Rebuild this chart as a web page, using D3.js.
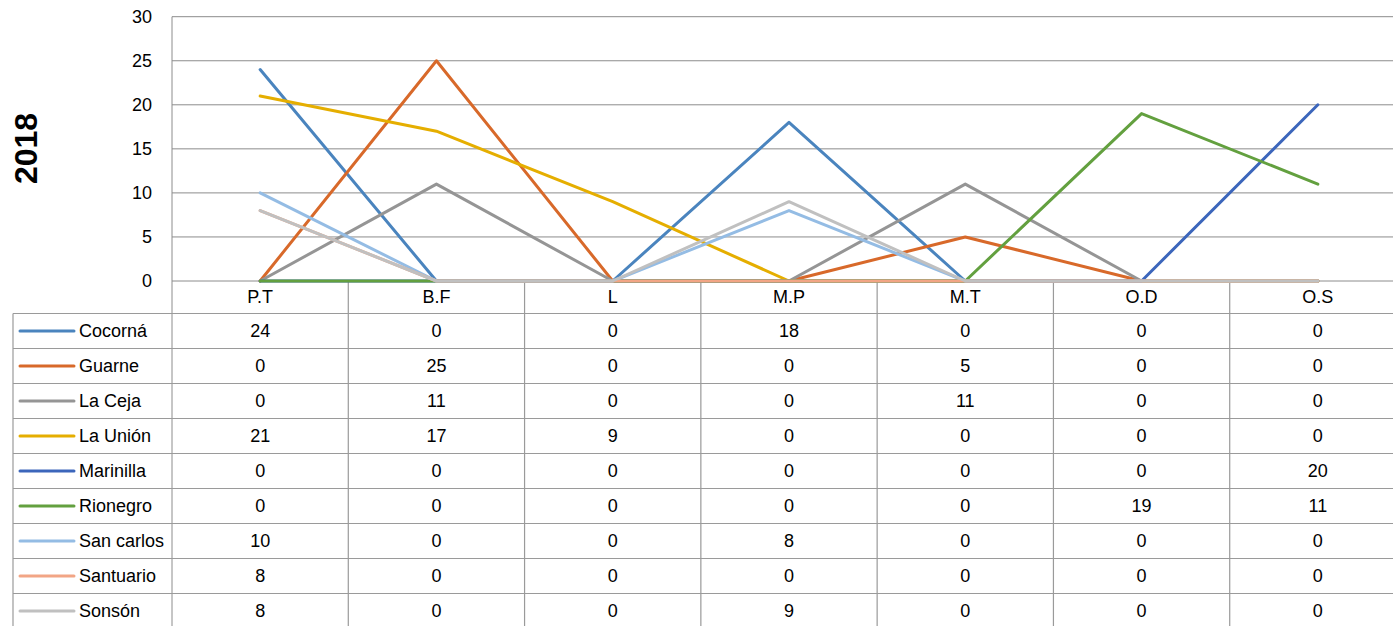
<!DOCTYPE html>
<html>
<head>
<meta charset="utf-8">
<script src="https://cdn.jsdelivr.net/npm/d3@7"></script>
<style>
  html, body { margin: 0; padding: 0; background: #fff; overflow: hidden; }
  text { font-family: "Liberation Sans", Arial, sans-serif; fill: #000; }
</style>
</head>
<body>
<svg id="chart" width="1393" height="626"></svg>
<script>
const title = "2018";
const categories = ["P.T", "B.F", "L", "M.P", "M.T", "O.D", "O.S"];
const seriesNames = ["Cocorná", "Guarne", "La Ceja", "La Unión", "Marinilla", "Rionegro", "San carlos", "Santuario", "Sonsón"];
const cocorna   = [24, 0, 0, 18, 0, 0, 0];
const guarne    = [0, 25, 0, 0, 5, 0, 0];
const laCeja    = [0, 11, 0, 0, 11, 0, 0];
const laUnion   = [21, 17, 9, 0, 0, 0, 0];
const marinilla = [0, 0, 0, 0, 0, 0, 20];
const rionegro  = [0, 0, 0, 0, 0, 19, 11];
const sanCarlos = [10, 0, 0, 8, 0, 0, 0];
const santuario = [8, 0, 0, 0, 0, 0, 0];
const sonson    = [8, 0, 0, 9, 0, 0, 0];
const yTicks = [0, 5, 10, 15, 20, 25, 30];
const colors = ["#4A84BE", "#D8692A", "#959595", "#E5AE00", "#3C66BB", "#63A03F", "#94BCE4", "#F2A585", "#C0C0C0"];

const seriesValues = [cocorna, guarne, laCeja, laUnion, marinilla, rionegro, sanCarlos, santuario, sonson];
const series = seriesNames.map((name, i) => ({ name, values: seriesValues[i], color: colors[i] }));

const svg = d3.select("#chart");
const plotLeft = 172, plotRight = 1406, plotTop = 16.7, plotBottom = 281;
const labelRowBottom = 313.5, rowH = 35, tableLeft = 13, svgH = 626;
const gridColor = "#8c8c8c", tableColor = "#9a9a9a";

const x = d3.scaleBand().domain(categories).range([plotLeft, plotRight]);
const y = d3.scaleLinear().domain([0, 30]).range([plotBottom, plotTop]);
const cx = c => x(c) + x.bandwidth() / 2;

// gridlines
svg.append("g").selectAll("line").data(yTicks).join("line")
  .attr("x1", plotLeft).attr("x2", plotRight)
  .attr("y1", d => y(d)).attr("y2", d => y(d))
  .attr("stroke", gridColor).attr("stroke-width", 1);

// y axis labels
const yAxis = svg.append("g").attr("transform", `translate(${plotLeft},0)`)
  .call(d3.axisLeft(y).tickValues(yTicks).tickSize(0).tickPadding(20));
yAxis.select(".domain").remove();
yAxis.selectAll("text").style("font-family", '"Liberation Sans", Arial, sans-serif').style("font-size", "18px").attr("fill", "#000");

// left axis line
svg.append("line").attr("x1", plotLeft).attr("x2", plotLeft)
  .attr("y1", plotTop).attr("y2", svgH)
  .attr("stroke", gridColor).attr("stroke-width", 1);

// title
svg.append("text").text(title)
  .attr("transform", `translate(37,148.5) rotate(-90)`)
  .attr("text-anchor", "middle")
  .style("font-size", "32px").style("font-weight", "bold");

// category separators in label row + table
const bounds = categories.slice(1).map(c => x(c));
svg.append("g").selectAll("line").data(bounds).join("line")
  .attr("x1", d => d).attr("x2", d => d)
  .attr("y1", plotBottom + 1).attr("y2", svgH)
  .attr("stroke", tableColor).attr("stroke-width", 1.2);

// category labels
svg.append("g").selectAll("text").data(categories).join("text")
  .attr("x", d => cx(d)).attr("y", 297).attr("dy", "0.35em")
  .attr("text-anchor", "middle").style("font-size", "18px").text(d => d);

// table horizontal lines
const rowLines = d3.range(series.length + 1).map(i => labelRowBottom + i * rowH);
svg.append("g").selectAll("line").data(rowLines).join("line")
  .attr("x1", tableLeft).attr("x2", plotRight)
  .attr("y1", d => d).attr("y2", d => d)
  .attr("stroke", tableColor).attr("stroke-width", 1.2);
svg.append("line").attr("x1", tableLeft).attr("x2", tableLeft)
  .attr("y1", labelRowBottom).attr("y2", svgH)
  .attr("stroke", tableColor).attr("stroke-width", 1.2);

// table rows
const rows = svg.append("g").selectAll("g").data(series).join("g")
  .attr("transform", (d, i) => `translate(0,${labelRowBottom + i * rowH + rowH / 2})`);
rows.append("line").attr("x1", 20).attr("x2", 74).attr("y1", 0).attr("y2", 0)
  .attr("stroke", d => d.color).attr("stroke-width", 3).attr("stroke-linecap", "round");
rows.append("text").attr("x", 79).attr("y", 0).attr("dy", "0.35em")
  .style("font-size", "18px").text(d => d.name);
rows.selectAll("text.val").data(d => d.values.map((v, j) => ({ v, c: categories[j] })))
  .join("text").attr("class", "val")
  .attr("x", d => cx(d.c)).attr("y", 0).attr("dy", "0.35em")
  .attr("text-anchor", "middle").style("font-size", "18px").text(d => d.v);

// lines
const line = d3.line().x((d, j) => cx(categories[j])).y(d => y(d));
svg.append("g").selectAll("path").data(series).join("path")
  .attr("d", d => line(d.values))
  .attr("fill", "none").attr("stroke", d => d.color)
  .attr("stroke-width", 3).attr("stroke-linejoin", "round").attr("stroke-linecap", "round");
</script>
</body>
</html>
